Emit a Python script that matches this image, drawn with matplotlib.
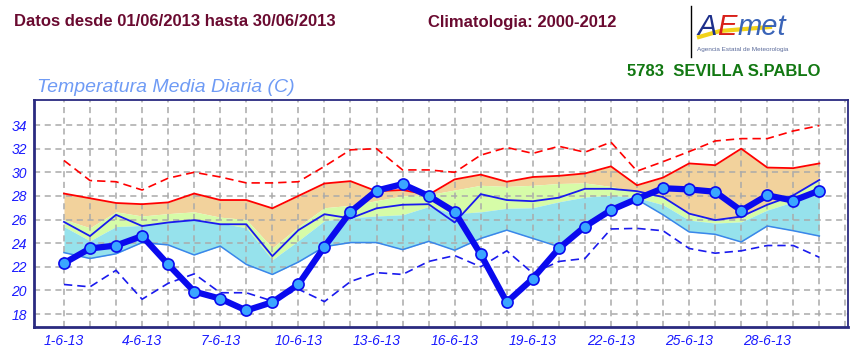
import numpy as np
import matplotlib.pyplot as plt
from matplotlib.lines import Line2D

plt.rcParams['font.family'] = ['Liberation Sans', 'DejaVu Sans']

days = np.arange(30)
xlabels = ['%d-6-13' % (d + 1) for d in range(30)]

# daily mean temperature June 2013
media = [22.3, 23.55, 23.8, 24.6, 22.2, 19.9, 19.3, 18.3, 19.0, 20.5,
         23.7, 26.65, 28.45, 29.0, 28.0, 26.65, 23.05, 19.0, 21.0, 23.55,
         25.4, 26.8, 27.75, 28.65, 28.55, 28.35, 26.75, 28.05, 27.6, 28.45]

# climatology 2000-2012
clim_max = [31.0, 29.3, 29.2, 28.5, 29.5, 30.0, 29.6, 29.1, 29.1, 29.2,
            30.5, 31.9, 32.0, 30.2, 30.2, 30.0, 31.45, 32.1, 31.6, 32.2,
            31.7, 32.55, 30.1, 30.9, 31.75, 32.65, 32.85, 32.85, 33.5, 33.95]
clim_sup = [28.2, 27.8, 27.4, 27.3, 27.45, 28.2, 27.65, 27.65, 26.95, 28.0,
            29.05, 29.25, 28.4, 28.5, 28.1, 29.4, 29.8, 29.2, 29.6, 29.7,
            29.9, 30.5, 28.9, 29.55, 30.75, 30.6, 32.0, 30.4, 30.35, 30.75]
clim_p_alto = [26.0, 25.3, 26.65, 26.3, 26.5, 26.65, 26.2, 26.0, 23.6, 25.4,
               27.0, 27.2, 27.6, 28.0, 28.1, 28.5, 28.9, 28.8, 28.9, 29.05,
               29.1, 28.8, 28.35, 27.95, 26.4, 26.0, 26.1, 27.35, 28.1, 29.4]
clim_p_medio = [25.4, 24.2, 25.4, 25.5, 25.8, 26.0, 25.7, 25.3, 22.6, 24.2,
                25.9, 26.15, 26.3, 26.4, 27.1, 26.5, 26.65, 26.95, 27.0, 27.5,
                27.9, 28.05, 27.85, 27.25, 25.95, 25.7, 25.8, 26.8, 27.5, 28.2]
clim_media = [25.8, 24.6, 26.4, 25.45, 25.75, 25.95, 25.6, 25.6, 22.9, 25.1,
              26.45, 26.1, 26.95, 27.25, 27.3, 25.75, 28.15, 27.65, 27.55, 27.85,
              28.6, 28.6, 28.4, 27.9, 26.5, 25.95, 26.25, 27.25, 28.05, 29.35]
clim_inf = [23.2, 22.7, 23.1, 24.05, 23.85, 23.0, 23.75, 22.2, 21.35, 22.4,
            23.7, 24.05, 24.05, 23.45, 24.15, 23.4, 24.4, 25.1, 24.4, 23.7,
            25.2, 26.8, 27.7, 26.4, 24.95, 24.75, 24.1, 25.45, 25.05, 24.6]
clim_min = [20.5, 20.3, 21.7, 19.25, 20.6, 21.4, 19.8, 19.8, 19.1, 20.1,
            19.05, 20.75, 21.5, 21.35, 22.45, 22.95, 22.0, 23.35, 21.45, 22.45,
            22.7, 25.2, 25.25, 25.05, 23.55, 23.15, 23.35, 23.8, 23.8, 22.8]

fig = plt.figure(figsize=(8.65, 3.52), dpi=100)
ax = fig.add_axes([34 / 865, 25 / 352, 814 / 865, 227 / 352])

ax.fill_between(days, clim_p_alto, clim_sup, color='#f2d29c', lw=0, zorder=1)
ax.fill_between(days, clim_p_medio, clim_p_alto, color='#d6fca8', lw=0, zorder=1)
ax.fill_between(days, clim_inf, clim_p_medio, color='#96e2ec', lw=0, zorder=1)

ax.plot(days, clim_max, color='red', lw=1.2, dashes=(5, 3), zorder=3)
ax.plot(days, clim_sup, color='red', lw=1.3, zorder=3)
ax.plot(days, clim_media, color='#1a1aee', lw=1.3, zorder=3)
ax.plot(days, clim_inf, color='#3a86ea', lw=1.1, zorder=3)
ax.plot(days, clim_min, color='#1a1aee', lw=1.2, dashes=(5, 3), zorder=3)
ax.plot(days, media, color='#0a0aee', lw=4.5, marker='o', ms=8,
        mfc='#3aa6ff', mec='#0a0aee', mew=1.2, zorder=4)

ax.set_xlim(-1.15, 30.1)
ax.set_ylim(16.9, 36.12)
ax.set_xticks(np.arange(31))
ax.set_xticklabels([xlabels[i] if i < 30 and i % 3 == 0 else '' for i in range(31)])
ax.set_yticks(np.arange(18, 35, 2))
ax.tick_params(length=0, labelsize=10, labelcolor='#1a1aff', pad=5)
for t in ax.get_xticklabels() + ax.get_yticklabels():
    t.set_style('italic')
ax.grid(True, color='#aaaaaa', ls=(0, (4, 3)), lw=1.1)
ax.set_axisbelow('line')
for s in ax.spines.values():
    s.set_color('#2a2a80')
    s.set_linewidth(1.3)
ax.spines['left'].set_linewidth(2)
ax.spines['bottom'].set_linewidth(2)

fig.text(14 / 865, 1 - 22 / 352, 'Datos desde 01/06/2013 hasta 30/06/2013',
         color='#6a0a30', fontsize=12, fontweight='bold', va='center')
fig.text(428 / 865, 1 - 22 / 352, 'Climatologia: 2000-2012',
         color='#6a0a30', fontsize=12, fontweight='bold', va='center')
fig.text(627 / 865, 1 - 72 / 352, '5783  SEVILLA S.PABLO',
         color='#127812', fontsize=12, fontweight='bold', va='center')
fig.text(37 / 865, 1 - 87 / 352, 'Temperatura Media Diaria (C)',
         color='#6f9bf5', fontsize=14, style='italic', va='center')

# logo
fig.add_artist(Line2D([691 / 865, 691 / 865], [1 - 6 / 352, 1 - 57 / 352],
                      color='black', lw=1))
fig.add_artist(Line2D(np.array([699, 720, 745, 770]) / 865,
                      1 - np.array([37, 31, 29, 27]) / 352,
                      color='#f2d21a', lw=3))
fig.text(697 / 865, 1 - 27 / 352, 'A', color='#1d2f8a', fontsize=21,
         style='italic', va='center')
fig.text(717 / 865, 1 - 27 / 352, 'E', color='#d8201a', fontsize=21,
         style='italic', va='center')
fig.text(738 / 865, 1 - 27 / 352, 'met', color='#3a64b8', fontsize=21,
         style='italic', va='center')
fig.text(697 / 865, 1 - 50 / 352, 'Agencia Estatal de Meteorologia',
         color='#5a6a9a', fontsize=4.6, va='center')

fig.savefig('out.png', dpi=100)
